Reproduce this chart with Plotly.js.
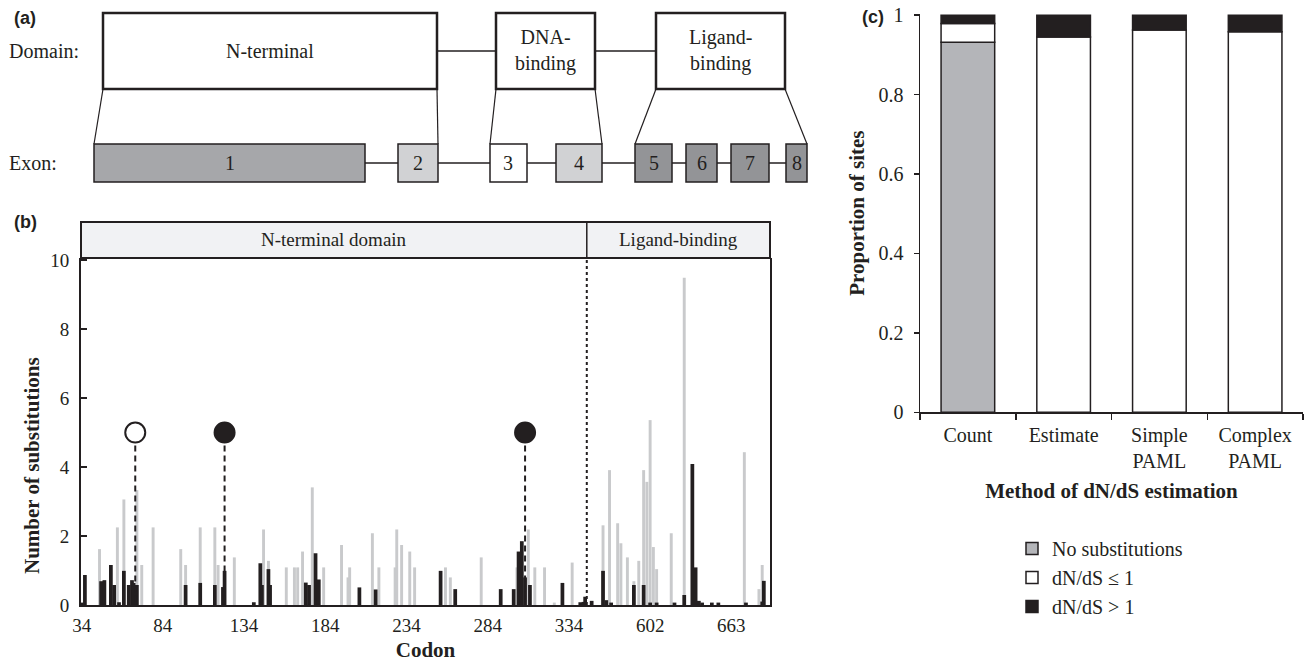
<!DOCTYPE html>
<html><head><meta charset="utf-8">
<script src="https://cdn.plot.ly/plotly-3.0.1.min.js"></script>
<style>html,body{margin:0;padding:0;background:#fff}#chart{width:1308px;height:668px}</style>
</head><body><div id="chart"></div>
<script>
// ---------- Panel (b): substitutions per codon (site index along the axis) ----------
const tickSites  = [0, 50, 100, 150, 200, 250, 300, 350, 400];
const tickCodons = ['34', '84', '134', '184', '234', '284', '334', '602', '663'];

const graySites  = [11, 22, 26, 34, 37, 44, 61, 64, 73, 82, 84, 94, 112, 115, 126, 131, 133, 136, 142, 149,
                    160, 164, 165, 179, 183, 193, 194, 197, 202, 205, 224, 227, 246, 268, 275, 279, 285, 291, 302, 321,
                    325, 330, 332, 336, 340, 343, 346, 348, 350, 352, 354, 363, 371, 408, 417, 419];
const grayCounts = [1.62, 2.25, 3.06, 3.33, 1.16, 2.25, 1.62, 1.16, 2.25, 2.25, 1.16, 1.38, 2.19, 1.28, 1.09, 1.09, 1.09, 1.55, 3.41, 1.09,
                    1.74, 0.80, 1.09, 2.08, 1.09, 1.09, 2.19, 1.74, 1.55, 1.09, 1.09, 0.80, 1.38, 1.09, 2.19, 1.09, 1.09, 0.07, 1.23, 2.31,
                    3.91, 2.37, 1.79, 1.38, 0.69, 1.28, 3.91, 3.57, 5.36, 1.68, 1.04, 2.08, 9.49, 4.43, 0.46, 1.16];

const blackSites  = [0, 2, 12, 14, 18, 20, 23, 26, 29, 31, 32, 34, 64, 73, 82, 87, 88, 106, 110, 111,
                     115, 116, 138, 140, 144, 146, 171, 181, 221, 230, 258, 266, 269, 271, 273, 276, 296, 307, 309, 310,
                     314, 321, 323, 326, 340, 346, 350, 354, 365, 371, 376, 378, 380, 382, 388, 392, 409, 419, 420];
const blackCounts = [0.07, 0.87, 0.69, 0.72, 1.16, 0.58, 0.08, 0.99, 0.58, 0.72, 0.64, 0.58, 0.58, 0.64, 0.58, 0.52, 0.99, 0.08, 1.21, 0.58,
                     1.04, 0.58, 0.65, 0.58, 1.50, 0.74, 0.51, 0.45, 0.99, 0.46, 0.46, 0.46, 1.55, 1.85, 0.80, 0.58, 0.64, 0.08, 0.09, 0.24,
                     0.12, 0.99, 0.14, 0.07, 0.58, 0.58, 0.07, 0.07, 0.07, 0.29, 4.09, 1.09, 0.12, 0.07, 0.07, 0.07, 0.07, 0.10, 0.70];

const selectedSites  = [33, 88, 273];
const selectedFilled = [false, true, true];
const selectedLevel  = 5;
const domainBoundarySite = 311;
const stripNames = ['N-terminal domain', 'Ligand-binding'];

// ---------- Panel (c): proportion of sites ----------
const methods   = ['Count', 'Estimate', 'Simple<br>PAML', 'Complex<br>PAML'];
const propNoSub = [0.932, 0, 0, 0];
const propLE1   = [0.047, 0.945, 0.963, 0.958];
const propGT1   = [0.021, 0.055, 0.037, 0.042];
const seriesNames = ['No substitutions', 'dN/dS \u2264 1', 'dN/dS > 1'];

// ---------- Panel (a): gene schematic ----------
const domainLabels = ['N-terminal', 'DNA-<br>binding', 'Ligand-<br>binding'];
const exonLabels   = ['1', '2', '3', '4', '5', '6', '7', '8'];
const domainExons  = [[0, 1], [2, 3], [4, 7]];

// ---------- layout geometry (pixels) ----------
const W = 1308, H = 668;
const px = x => x / W, py = y => 1 - y / H;
const INK = '#231f20';
const SERIF = 'Liberation Serif, Times New Roman, serif';
const SANS = 'Liberation Sans, Arial, sans-serif';
const schem = {
  domainBoxes: [[103, 437], [496, 595], [656, 785]], domainTop: 13, domainBottom: 89,
  exonBoxes: [[94, 365], [398, 438], [490, 527], [556, 602], [635, 672], [686, 717], [731, 769], [786, 807]],
  exonTop: 144, exonBottom: 182,
  exonFills: ['#a6a7aa', '#d1d2d4', '#ffffff', '#d1d2d4', '#939497', '#939497', '#939497', '#939497']
};
const bPlot = {left: 81, right: 770, bottom: 605, top: 258, stripTop: 222};
const cPlot = {left: 920, right: 1303, bottom: 412.3, top: 14};

const traces = [];
traces.push({type: 'bar', x: graySites, y: grayCounts, width: 1.8, marker: {color: '#c9cacc', line: {width: 0}},
  xaxis: 'x', yaxis: 'y', showlegend: false, hoverinfo: 'skip'});
traces.push({type: 'bar', x: blackSites, y: blackCounts, width: 2.3, marker: {color: INK, line: {width: 0}},
  xaxis: 'x', yaxis: 'y', showlegend: false, hoverinfo: 'skip'});
selectedSites.forEach((s, i) => {
  traces.push({type: 'scatter', mode: 'lines', x: [s, s], y: [0.1, selectedLevel - 0.3],
    line: {color: INK, width: 2, dash: '6px,4px'}, xaxis: 'x', yaxis: 'y', showlegend: false, hoverinfo: 'skip'});
});
traces.push({type: 'scatter', mode: 'markers', x: selectedSites, y: selectedSites.map(() => selectedLevel),
  marker: {size: 20, color: selectedFilled.map(f => f ? INK : '#ffffff'), line: {color: INK, width: 2}},
  xaxis: 'x', yaxis: 'y', showlegend: false, hoverinfo: 'skip', cliponaxis: false});

// panel (c) stacked bars via explicit bases
const baseLE1 = propNoSub.slice();
const baseGT1 = propNoSub.map((v, i) => v + propLE1[i]);
const cColors = ['#b4b5b9', '#ffffff', INK];
[[propNoSub, propNoSub.map(() => 0)], [propLE1, baseLE1], [propGT1, baseGT1]].forEach(([vals, base], k) => {
  traces.push({type: 'bar', name: seriesNames[k], x: methods, y: vals.map(v => v === 0 ? null : v), base: base,
    width: 0.56, marker: {color: cColors[k], line: {color: INK, width: 1.5}},
    xaxis: 'x2', yaxis: 'y2', legendgroup: 'g' + k, hoverinfo: 'skip'});
});

const shapes = [];
const annotations = [];
function note(x, y, text, opts) {
  annotations.push(Object.assign({xref: 'paper', yref: 'paper', x: x, y: y, text: text, showarrow: false,
    xanchor: 'center', yanchor: 'middle', font: {family: SERIF, size: 20, color: INK}}, opts || {}));
}
// strip over panel (b)
shapes.push({type: 'rect', xref: 'paper', yref: 'paper', x0: px(bPlot.left), x1: px(bPlot.right), y0: py(bPlot.top), y1: py(bPlot.stripTop),
  fillcolor: '#f1f2f4', line: {color: INK, width: 2}, layer: 'below'});
shapes.push({type: 'line', xref: 'x', yref: 'paper', x0: domainBoundarySite, x1: domainBoundarySite, y0: py(bPlot.top), y1: py(bPlot.stripTop),
  line: {color: INK, width: 1.5}});
shapes.push({type: 'line', xref: 'x', yref: 'y', x0: domainBoundarySite, x1: domainBoundarySite, y0: 0, y1: 10.06,
  line: {color: INK, width: 2, dash: 'dot'}});
const stripMid = py((bPlot.top + bPlot.stripTop) / 2);
note((-0.4 + domainBoundarySite) / 2, stripMid, stripNames[0], {xref: 'x', font: {family: SERIF, size: 19, color: INK}});
note((423.8 + domainBoundarySite) / 2, stripMid, stripNames[1], {xref: 'x', font: {family: SERIF, size: 19, color: INK}});

// schematic (a)
const dMid = (schem.domainTop + schem.domainBottom) / 2, eMid = (schem.exonTop + schem.exonBottom) / 2;
for (let i = 0; i < schem.domainBoxes.length - 1; i++) {
  shapes.push({type: 'line', xref: 'paper', yref: 'paper', x0: px(schem.domainBoxes[i][1]), x1: px(schem.domainBoxes[i + 1][0]),
    y0: py(dMid), y1: py(dMid), line: {color: INK, width: 1.5}});
}
for (let i = 0; i < schem.exonBoxes.length - 1; i++) {
  shapes.push({type: 'line', xref: 'paper', yref: 'paper', x0: px(schem.exonBoxes[i][1]), x1: px(schem.exonBoxes[i + 1][0]),
    y0: py(eMid), y1: py(eMid), line: {color: INK, width: 1.5}});
}
schem.domainBoxes.forEach((b, i) => {
  shapes.push({type: 'rect', xref: 'paper', yref: 'paper', x0: px(b[0]), x1: px(b[1]), y0: py(schem.domainBottom), y1: py(schem.domainTop),
    fillcolor: '#ffffff', line: {color: INK, width: 2.5}});
  note(px((b[0] + b[1]) / 2), py(dMid), domainLabels[i]);
  const e0 = schem.exonBoxes[domainExons[i][0]], e1 = schem.exonBoxes[domainExons[i][1]];
  shapes.push({type: 'line', xref: 'paper', yref: 'paper', x0: px(b[0]), y0: py(schem.domainBottom), x1: px(e0[0]), y1: py(schem.exonTop),
    line: {color: INK, width: 1.2}});
  shapes.push({type: 'line', xref: 'paper', yref: 'paper', x0: px(b[1]), y0: py(schem.domainBottom), x1: px(e1[1]), y1: py(schem.exonTop),
    line: {color: INK, width: 1.2}});
});
schem.exonBoxes.forEach((b, i) => {
  shapes.push({type: 'rect', xref: 'paper', yref: 'paper', x0: px(b[0]), x1: px(b[1]), y0: py(schem.exonBottom), y1: py(schem.exonTop),
    fillcolor: schem.exonFills[i], line: {color: INK, width: 1.5}});
  note(px((b[0] + b[1]) / 2), py(eMid), exonLabels[i]);
});
note(px(7), py(dMid), 'Domain:', {xanchor: 'left'});
note(px(7), py(eMid), 'Exon:', {xanchor: 'left'});
// panel labels
[['(a)', 12, 18], ['(b)', 12, 222], ['(c)', 860, 17]].forEach(([t, x, y]) => {
  note(px(x), py(y), '<b>' + t + '</b>', {xanchor: 'left', font: {family: SANS, size: 18, color: INK}});
});
// y title of panel (b)
note(px(32), py(466), '<b>Number of substitutions</b>', {textangle: -90, font: {family: SERIF, size: 21, color: INK}});

const layout = {
  width: W, height: H, margin: {l: 0, r: 0, t: 0, b: 0}, paper_bgcolor: '#fff', plot_bgcolor: 'rgba(0,0,0,0)',
  barmode: 'overlay', showlegend: true,
  font: {family: SERIF, color: INK, size: 19},
  xaxis: {domain: [px(bPlot.left), px(bPlot.right)], range: [-0.4, 423.8], tickmode: 'array', tickvals: tickSites, ticktext: tickCodons,
    ticks: '', showline: true, linecolor: INK, linewidth: 2, showgrid: false, zeroline: false, ticklabelstandoff: 2,
    tickfont: {family: SERIF, size: 19, color: INK},
    title: {text: '<b>Codon</b>', font: {family: SERIF, size: 21, color: INK}, standoff: 8}},
  yaxis: {domain: [py(bPlot.bottom), py(bPlot.top)], range: [0, 10.06], tickmode: 'array', tickvals: [0, 2, 4, 6, 8, 10],
    ticks: 'inside', ticklen: 6, tickwidth: 2, tickcolor: INK, showline: true, linecolor: INK, linewidth: 2, mirror: true,
    showgrid: false, zeroline: false, ticklabelstandoff: 6, tickfont: {family: SERIF, size: 19, color: INK}},
  xaxis2: {domain: [px(cPlot.left), px(cPlot.right)], anchor: 'y2', type: 'category', tickson: 'boundaries', ticks: 'outside',
    ticklen: 6, tickwidth: 1.5, tickcolor: INK, showline: true, linecolor: INK, linewidth: 1.5, showgrid: false, zeroline: false,
    ticklabelstandoff: 4, tickfont: {family: SERIF, size: 20, color: INK},
    title: {text: '<b>Method of dN/dS estimation</b>', font: {family: SERIF, size: 21, color: INK}, standoff: 12}},
  yaxis2: {domain: [py(cPlot.bottom), py(cPlot.top)], anchor: 'x2', range: [0, 1.003], tickmode: 'array',
    tickvals: [0, 0.2, 0.4, 0.6, 0.8, 1], ticktext: ['0', '0.2', '0.4', '0.6', '0.8', '1'],
    ticks: 'outside', ticklen: 5, tickwidth: 1.5, tickcolor: INK, showline: true, linecolor: INK, linewidth: 1.5,
    showgrid: false, zeroline: false, ticklabelstandoff: 6, tickfont: {family: SERIF, size: 20, color: INK},
    title: {text: '<b>Proportion of sites</b>', font: {family: SERIF, size: 21, color: INK}, standoff: 8}},
  legend: {x: px(1012), y: py(529), xanchor: 'left', yanchor: 'top', traceorder: 'normal', tracegroupgap: 4,
    font: {family: SERIF, size: 20, color: INK}, bgcolor: 'rgba(0,0,0,0)'},
  shapes: shapes, annotations: annotations
};
Plotly.newPlot('chart', traces, layout, {displayModeBar: false, staticPlot: true});
</script>
</body></html>
